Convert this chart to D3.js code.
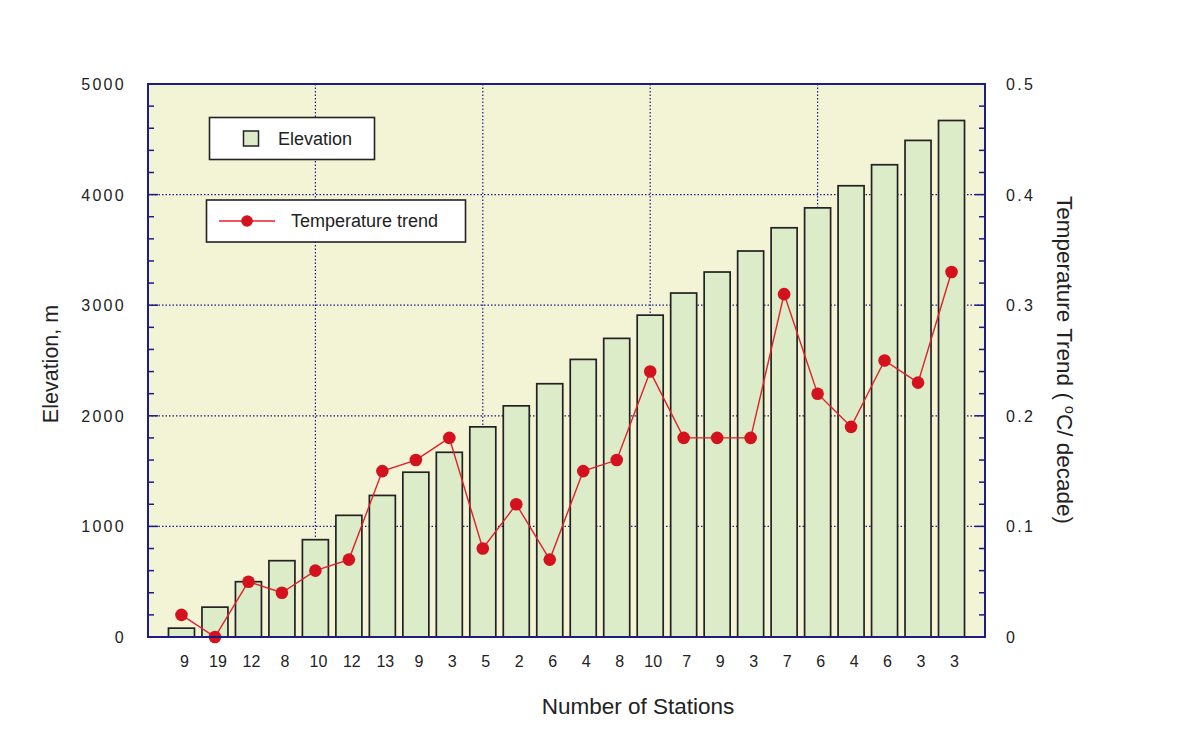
<!DOCTYPE html>
<html><head><meta charset="utf-8">
<script src="https://cdn.jsdelivr.net/npm/d3@7/dist/d3.min.js"></script>
<style>body{margin:0;background:#fff;}svg{display:block;font-family:"Liberation Sans",Arial,sans-serif;}</style>
</head><body>
<script>
const stations = [9,19,12,8,10,12,13,9,3,5,2,6,4,8,10,7,9,3,7,6,4,6,3,3];
const elevation = [80,270,500,690,880,1100,1280,1490,1670,1900,2090,2290,2510,2700,2910,3110,3300,3490,3700,3880,4080,4270,4490,4670];
const trend = [0.02,0,0.05,0.04,0.06,0.07,0.15,0.16,0.18,0.08,0.12,0.07,0.15,0.16,0.24,0.18,0.18,0.18,0.31,0.22,0.19,0.25,0.23,0.33];
const leftTicks = [0,1000,2000,3000,4000,5000];
const rightTicks = [0,0.1,0.2,0.3,0.4,0.5];

const W=1178,H=731;
const m={l:148,r:985,t:84,b:637};
const svg=d3.select("body").append("svg").attr("width",W).attr("height",H);
const x=d3.scaleLinear().domain([0,stations.length+1]).range([m.l,m.r]);
const yL=d3.scaleLinear().domain([0,5000]).range([m.b,m.t]);
const yR=d3.scaleLinear().domain([0,0.5]).range([m.b,m.t]);
const axisCol="#1c1c86", txtCol="#222";

svg.append("rect").attr("x",m.l).attr("y",m.t).attr("width",m.r-m.l).attr("height",m.b-m.t).attr("fill","#f3f3d6");

// grid
const g=svg.append("g");
g.selectAll(".vg").data([5,10,15,20]).join("line").attr("x1",d=>x(d)).attr("x2",d=>x(d)).attr("y1",m.t).attr("y2",m.b)
 .attr("stroke",axisCol).attr("stroke-width",1.2).attr("stroke-dasharray","1.5,2");
g.selectAll(".hg").data([1000,2000,3000,4000]).join("line").attr("y1",d=>yL(d)).attr("y2",d=>yL(d)).attr("x1",m.l).attr("x2",m.r)
 .attr("stroke",axisCol).attr("stroke-width",1.2).attr("stroke-dasharray","1.5,2");

// bars
const bw=26;
svg.selectAll(".bar").data(elevation).join("rect").attr("x",(d,i)=>x(i+1)-bw/2).attr("width",bw)
 .attr("y",d=>yL(d)).attr("height",d=>yL(0)-yL(d)).attr("fill","#dcebc8").attr("stroke","#222").attr("stroke-width",1.7);

// line
const line=d3.line().x((d,i)=>x(i+1)).y(d=>yR(d));
svg.append("path").datum(trend).attr("d",line).attr("fill","none").attr("stroke","#e0202a").attr("stroke-width",1.4);
svg.selectAll(".pt").data(trend).join("circle").attr("cx",(d,i)=>x(i+1)).attr("cy",d=>yR(d)).attr("r",6.3).attr("fill","#d4121e");

// axes ticks (inward)
svg.append("g").selectAll("line").data(d3.range(0,5001,200)).join("line").attr("x1",m.l).attr("x2",d=>m.l+(d%1000===0?10:6))
 .attr("y1",d=>yL(d)).attr("y2",d=>yL(d)).attr("stroke",axisCol).attr("stroke-width",1.5);
svg.append("g").selectAll("line").data(d3.range(0,26).map(i=>i*0.02)).join("line").attr("x1",m.r).attr("x2",(d,i)=>m.r-(i%5===0?10:6))
 .attr("y1",d=>yR(d)).attr("y2",d=>yR(d)).attr("stroke",axisCol).attr("stroke-width",1.5);
svg.append("rect").attr("x",m.l).attr("y",m.t).attr("width",m.r-m.l).attr("height",m.b-m.t).attr("fill","none").attr("stroke",axisCol).attr("stroke-width",2);

svg.selectAll(".lt").data(leftTicks).join("text").attr("x",m.l-22).attr("y",d=>yL(d)+6).attr("text-anchor","end")
 .attr("font-size",16).attr("letter-spacing",2.3).attr("fill",txtCol).text(d=>d);
svg.selectAll(".rt").data(rightTicks).join("text").attr("x",m.r+21).attr("y",d=>yR(d)+6).attr("text-anchor","start")
 .attr("font-size",16).attr("letter-spacing",2.3).attr("fill",txtCol).text(d=>d===0?"0":d.toFixed(1));
svg.selectAll(".xt").data(stations).join("text").attr("x",(d,i)=>x(i+1)+3).attr("y",667).attr("text-anchor","middle")
 .attr("font-size",16).attr("fill",txtCol).text(d=>d);

svg.append("text").attr("x",638).attr("y",714).attr("text-anchor","middle").attr("font-size",22.5).attr("fill",txtCol).text("Number of Stations");
svg.append("text").attr("transform","translate(58,364) rotate(-90)").attr("text-anchor","middle").attr("font-size",21.5).attr("fill",txtCol).text("Elevation, m");
const rt=svg.append("text").attr("transform","translate(1057,360) rotate(90)").attr("text-anchor","middle").attr("font-size",22.5).attr("fill",txtCol);
rt.append("tspan").text("Temperature Trend ( ");
rt.append("tspan").attr("dy",-8).attr("font-size",14).text("o");
rt.append("tspan").attr("dy",8).text("C/ decade)");

// legend
const lg=svg.append("g");
lg.append("rect").attr("x",209.5).attr("y",117.5).attr("width",165).attr("height",42).attr("fill","#fff").attr("stroke","#222").attr("stroke-width",1.6);
lg.append("rect").attr("x",243.5).attr("y",131).attr("width",15).attr("height",15).attr("fill","#dcebc8").attr("stroke","#222").attr("stroke-width",1.5);
lg.append("text").attr("x",278).attr("y",145).attr("font-size",18).attr("fill",txtCol).text("Elevation");
lg.append("rect").attr("x",206.5).attr("y",200).attr("width",259).attr("height",42).attr("fill","#fff").attr("stroke","#222").attr("stroke-width",1.6);
lg.append("line").attr("x1",219).attr("x2",275).attr("y1",221).attr("y2",221).attr("stroke","#e0202a").attr("stroke-width",1.4);
lg.append("circle").attr("cx",247).attr("cy",221).attr("r",5.8).attr("fill","#d4121e");
lg.append("text").attr("x",291).attr("y",227).attr("font-size",18).attr("fill",txtCol).text("Temperature trend");
</script>
</body></html>
